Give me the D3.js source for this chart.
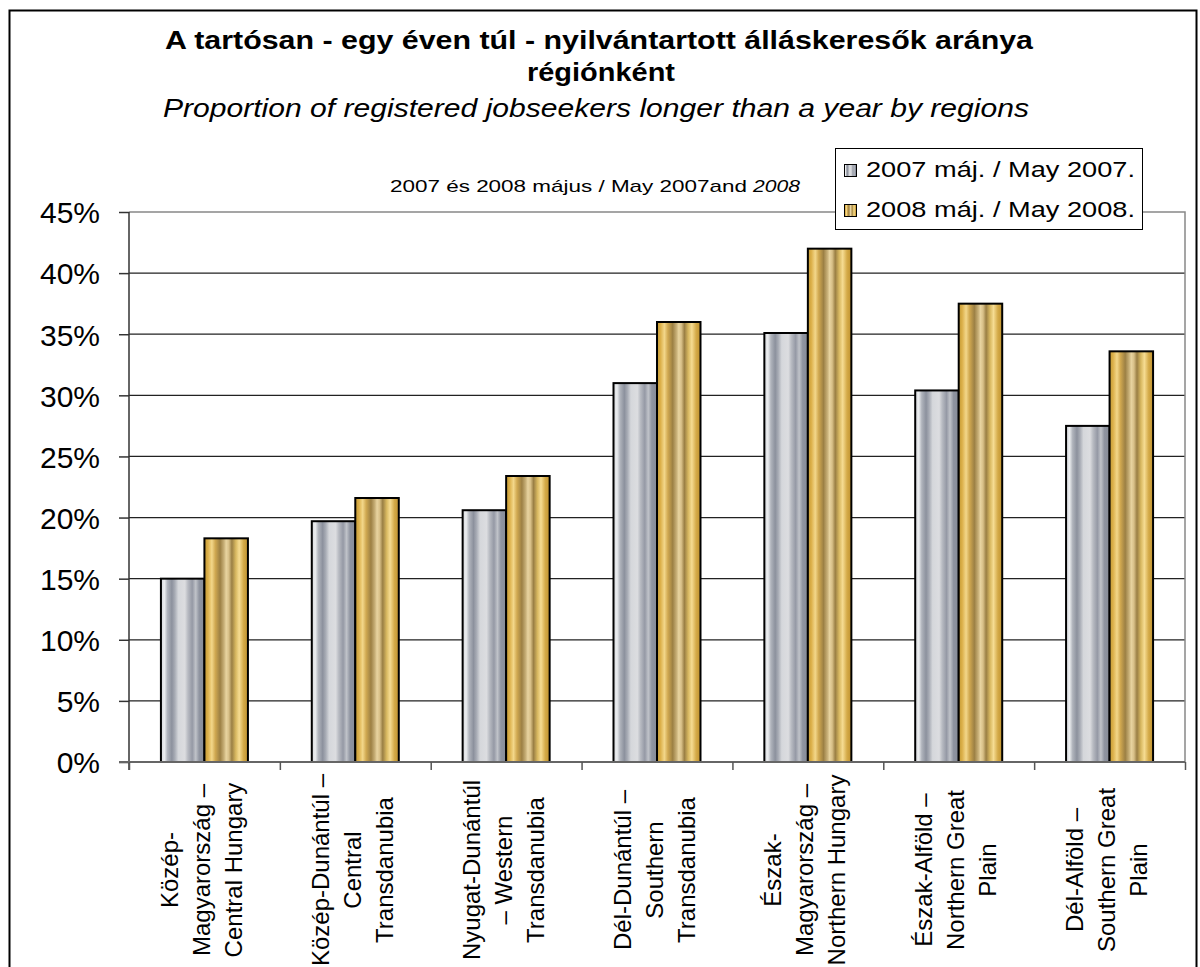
<!DOCTYPE html>
<html>
<head>
<meta charset="utf-8">
<script src="https://cdn.jsdelivr.net/npm/d3@7"></script>
<style>
  html, body { margin: 0; padding: 0; background: #fff; }
  svg { display: block; }
  text { font-family: "Liberation Sans", Arial, sans-serif; fill: #000; }
</style>
</head>
<body>
<svg id="chart" width="1200" height="967"></svg>
<script>
const categories = [
  ["Közép-", "Magyarország –", "Central Hungary"],
  ["Közép-Dunántúl –", "Central", "Transdanubia"],
  ["Nyugat-Dunántúl", "– Western", "Transdanubia"],
  ["Dél-Dunántúl –", "Southern", "Transdanubia"],
  ["Észak-", "Magyarország –", "Northern Hungary"],
  ["Észak-Alföld –", "Northern Great", "Plain"],
  ["Dél-Alföld –", "Southern Great", "Plain"]
];
const values2007 = [15.0, 19.7, 20.6, 31.0, 35.1, 30.4, 27.5];
const values2008 = [18.3, 21.6, 23.4, 36.0, 42.0, 37.5, 33.6];
const seriesNames = ["2007 máj. / May 2007.", "2008 máj. / May 2008."];
const yTicks = [0, 5, 10, 15, 20, 25, 30, 35, 40, 45];
const titleLine1 = "A tartósan - egy éven túl - nyilvántartott álláskeresők aránya";
const titleLine2 = "régiónként";
const subtitle = "Proportion of registered jobseekers longer than a year by regions";
const noteText = "2007 és 2008 május / May 2007and";
const noteItalic = "2008";

(function () {
const svg = d3.select("#chart");
const defs = svg.append("defs");

const grayStops = [
  [0.00, "#d4d6da"], [0.08, "#eceef0"], [0.15, "#b0b4bc"], [0.25, "#8c919d"],
  [0.32, "#a8acb5"], [0.40, "#d5d7db"], [0.55, "#dcdde0"], [0.62, "#b8bbc2"],
  [0.72, "#9599a5"], [0.80, "#c0c3c9"], [0.88, "#8f94a0"], [1.00, "#878c98"]
];
const goldStops = [
  [0.00, "#c39a35"], [0.08, "#dcb04a"], [0.17, "#f3d78a"], [0.25, "#d0a850"],
  [0.36, "#9c8044"], [0.45, "#c8b078"], [0.50, "#e8d4a0"], [0.56, "#d8c088"],
  [0.63, "#9a7f44"], [0.72, "#d8b860"], [0.80, "#f6dc92"], [0.90, "#d4aa48"],
  [1.00, "#c0922e"]
];
function makeGrad(id, stops) {
  const g = defs.append("linearGradient").attr("id", id)
    .attr("x1", "0").attr("y1", "0").attr("x2", "1").attr("y2", "0");
  stops.forEach(s => g.append("stop").attr("offset", s[0]).attr("stop-color", s[1]));
}
makeGrad("gGray", grayStops);
makeGrad("gGold", goldStops);
const fills = ["url(#gGray)", "url(#gGold)"];

// Outer frame
svg.append("rect").attr("x", 9.5).attr("y", 10.5).attr("width", 1187).attr("height", 1100)
  .attr("fill", "none").attr("stroke", "#000").attr("stroke-width", 2);

// Scales
const pL = 129, pR = 1185, pT = 212, pB = 762;
const x = d3.scaleBand().domain(d3.range(categories.length)).range([pL, pR]).padding(0);
const bw = x.bandwidth();
const groupW = 87;
const x1 = d3.scaleBand().domain([0, 1]).range([(bw - groupW) / 2, (bw + groupW) / 2]).padding(0);
const y = d3.scaleLinear().domain([0, 45]).range([pB, pT]);
const xb = d3.scaleLinear().domain([0, categories.length]).range([pL, pR]);

// Gridlines
svg.append("g").selectAll("line").data(yTicks.filter(d => d > 0 && d < 45)).join("line")
  .attr("x1", pL).attr("x2", pR).attr("y1", d => y(d)).attr("y2", d => y(d))
  .attr("stroke", "#222").attr("stroke-width", 1.2);

// Plot border (top/right gray)
svg.append("path")
  .attr("d", `M${pL},${pT}H${pR}V${pB}`)
  .attr("fill", "none").attr("stroke", "#888").attr("stroke-width", 1.5);

// Bars
const data = categories.map((c, i) => ({ i, vals: [values2007[i], values2008[i]] }));
const groups = svg.append("g").selectAll("g").data(data).join("g")
  .attr("transform", d => `translate(${x(d.i)},0)`);
groups.selectAll("rect").data(d => d.vals.map((v, s) => ({ v, s }))).join("rect")
  .attr("x", d => x1(d.s))
  .attr("width", x1.bandwidth())
  .attr("y", d => y(d.v))
  .attr("height", d => y(0) - y(d.v))
  .attr("fill", d => fills[d.s])
  .attr("stroke", "#000").attr("stroke-width", 2);

// Y axis
const yAxis = svg.append("g").attr("transform", `translate(${pL},0)`)
  .call(d3.axisLeft(y).tickValues(yTicks).tickFormat(d => d + "%").tickSize(10).tickPadding(19));
yAxis.select(".domain").attr("stroke", "#333").attr("stroke-width", 1.5)
  .attr("d", `M0,${pT}V${pB + 8}`);
yAxis.selectAll(".tick line").attr("stroke", "#333").attr("stroke-width", 1.5);
yAxis.selectAll(".tick text")
  .style("font-family", '"Liberation Sans", Arial, sans-serif')
  .style("font-size", "30px").attr("fill", "#000").attr("dy", "0.36em");

// X axis
const xAxis = svg.append("g").attr("transform", `translate(0,${pB})`)
  .call(d3.axisBottom(xb).tickValues(d3.range(categories.length + 1)).tickFormat("").tickSize(8));
xAxis.select(".domain").attr("stroke", "#666").attr("stroke-width", 2)
  .attr("d", `M${pL - 10},0H${pR}`);
xAxis.selectAll(".tick line").attr("stroke", "#555").attr("stroke-width", 1.5);

// X labels (rotated)
const labelCY = 870, lineGap = 32;
const labels = svg.append("g").selectAll("text").data(categories).join("text")
  .attr("transform", (d, i) => `translate(${x(i) + bw / 2 - 3},${labelCY}) rotate(-90)`)
  .attr("text-anchor", "middle")
  .style("font-size", "24px");
labels.selectAll("tspan").data(d => d).join("tspan")
  .attr("x", 0)
  .attr("y", (d, j) => (j - 1) * lineGap)
  .attr("dy", "0.36em")
  .text(d => d);

// Titles
svg.append("text").attr("x", 165).attr("y", 49)
  .attr("textLength", 868).attr("lengthAdjust", "spacingAndGlyphs")
  .style("font-size", "26px").style("font-weight", "bold").text(titleLine1);
svg.append("text").attr("x", 527).attr("y", 81)
  .attr("textLength", 148).attr("lengthAdjust", "spacingAndGlyphs")
  .style("font-size", "26px").style("font-weight", "bold").text(titleLine2);
svg.append("text").attr("x", 163).attr("y", 117)
  .attr("textLength", 866).attr("lengthAdjust", "spacingAndGlyphs")
  .style("font-size", "25.5px").style("font-style", "italic").text(subtitle);
svg.append("text").attr("x", 390).attr("y", 192)
  .attr("textLength", 357).attr("lengthAdjust", "spacingAndGlyphs")
  .style("font-size", "17px").text(noteText);
svg.append("text").attr("x", 753).attr("y", 192)
  .attr("textLength", 47).attr("lengthAdjust", "spacingAndGlyphs")
  .style("font-size", "17px").style("font-style", "italic").text(noteItalic);

// Legend
const lg = svg.append("g");
lg.append("rect").attr("x", 835.5).attr("y", 148.5).attr("width", 307).attr("height", 81)
  .attr("fill", "#fff").attr("stroke", "#000").attr("stroke-width", 1);
const items = lg.selectAll("g.item").data(seriesNames).join("g").attr("class", "item")
  .attr("transform", (d, i) => `translate(0,${i * 40})`);
items.append("rect").attr("x", 844.5).attr("y", 164.5).attr("width", 12).attr("height", 12)
  .attr("fill", (d, i) => fills[i]).attr("stroke", "#000").attr("stroke-width", 1);
items.append("text").attr("x", 866).attr("y", 177)
  .attr("textLength", 269).attr("lengthAdjust", "spacingAndGlyphs")
  .style("font-size", "22px").text(d => d);
})();
</script>
</body>
</html>
